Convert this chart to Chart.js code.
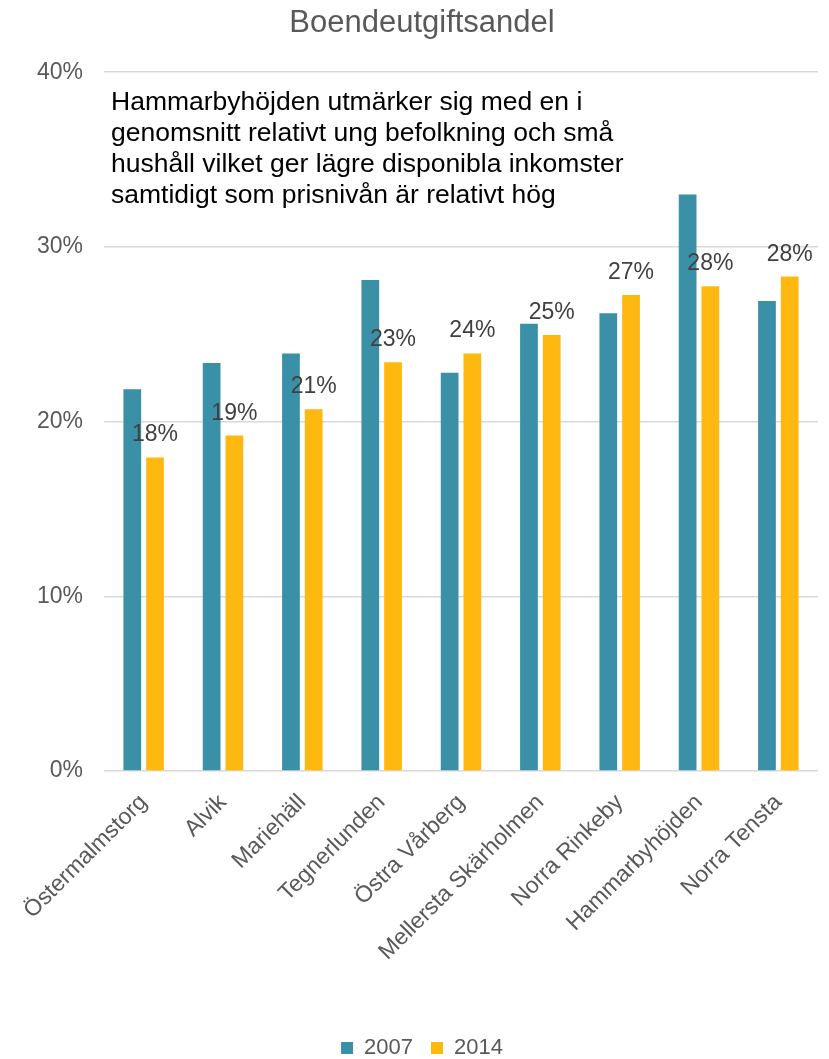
<!DOCTYPE html>
<html>
<head>
<meta charset="utf-8">
<script src="https://cdn.jsdelivr.net/npm/chart.js@4/dist/chart.umd.min.js"></script>
<style>
  body { margin: 0; background: #fff; }
</style>
</head>
<body>
<canvas id="graphic" width="829" height="1059"></canvas>
<script>
const districts = ['Östermalmstorg', 'Alvik', 'Mariehäll', 'Tegnerlunden', 'Östra Vårberg',
    'Mellersta Skärholmen', 'Norra Rinkeby', 'Hammarbyhöjden', 'Norra Tensta'];
const share2007 = [21.85, 23.35, 23.9, 28.1, 22.8, 25.6, 26.2, 33.0, 26.9];
const share2014 = [17.95, 19.2, 20.7, 23.4, 23.9, 24.95, 27.25, 27.75, 28.3];
const seriesNames = ['2007', '2014'];
const note = [
    'Hammarbyhöjden utmärker sig med en i',
    'genomsnitt relativt ung befolkning och små',
    'hushåll vilket ger lägre disponibla inkomster',
    'samtidigt som prisnivån är relativt hög'
];

const FONT = '"Liberation Sans", Arial, sans-serif';

//Percent labels above the 2014 bars
const valueLabels = {
    id: 'valueLabels',
    afterDatasetsDraw(chart) {
        const ctx = chart.ctx;
        const meta = chart.getDatasetMeta(1);
        ctx.save();
        ctx.font = '23px ' + FONT;
        ctx.fillStyle = '#404040';
        ctx.textAlign = 'center';
        ctx.textBaseline = 'alphabetic';
        meta.data.forEach((bar, i) => {
            ctx.fillText(Math.round(share2014[i]) + '%', bar.x, bar.y - 16);
        });
        ctx.restore();
    }
};

//Text box in the upper left of the plot
const noteBox = {
    id: 'noteBox',
    afterDraw(chart) {
        const ctx = chart.ctx;
        const area = chart.chartArea;
        ctx.save();
        ctx.font = '26.5px ' + FONT;
        ctx.fillStyle = '#000';
        ctx.textAlign = 'left';
        ctx.textBaseline = 'alphabetic';
        note.forEach((line, i) => {
            ctx.fillText(line, area.left + 7, area.top + 38 + i * 31);
        });
        ctx.restore();
    }
};

const chartElement = document.getElementById('graphic');
const newChart = new Chart(chartElement, {
    type: 'bar',
    data: {
        labels: districts,
        datasets: [{
            label: seriesNames[0],
            backgroundColor: '#3A90A6',
            data: share2007,
            barPercentage: 0.78,
            categoryPercentage: 0.573
        }, {
            label: seriesNames[1],
            backgroundColor: '#FFB80F',
            data: share2014,
            barPercentage: 0.78,
            categoryPercentage: 0.573
        }]
    },
    options: {
        responsive: false,
        animation: false,
        layout: {
            padding: { left: 26, right: 11, top: 0, bottom: -10 }
        },
        scales: {
            x: {
                grid: { display: false },
                border: { display: false },
                ticks: {
                    color: '#595959',
                    font: { family: FONT, size: 23 },
                    maxRotation: 45,
                    minRotation: 45,
                    autoSkip: false,
                    padding: 10
                },
                afterFit: (scale) => { scale.height = 248; }
            },
            y: {
                min: 0,
                max: 40,
                ticks: {
                    stepSize: 10,
                    color: '#595959',
                    font: { family: FONT, size: 23 },
                    padding: 21,
                    callback: (v) => v + '%'
                },
                grid: { color: '#d9d9d9', lineWidth: 1.5, drawTicks: false },
                border: { display: false },
                afterFit: (scale) => { scale.width = 78; }
            }
        },
        plugins: {
            title: {
                display: true,
                text: 'Boendeutgiftsandel',
                color: '#595959',
                font: { family: FONT, size: 31, weight: 'normal' },
                padding: { top: 5, bottom: 30 }
            },
            legend: {
                position: 'bottom',
                labels: {
                    color: '#595959',
                    font: { family: FONT, size: 22 },
                    boxWidth: 12,
                    boxHeight: 12,
                    padding: 18
                }
            },
            tooltip: { enabled: false }
        }
    },
    plugins: [valueLabels, noteBox]
});
</script>
</body>
</html>
